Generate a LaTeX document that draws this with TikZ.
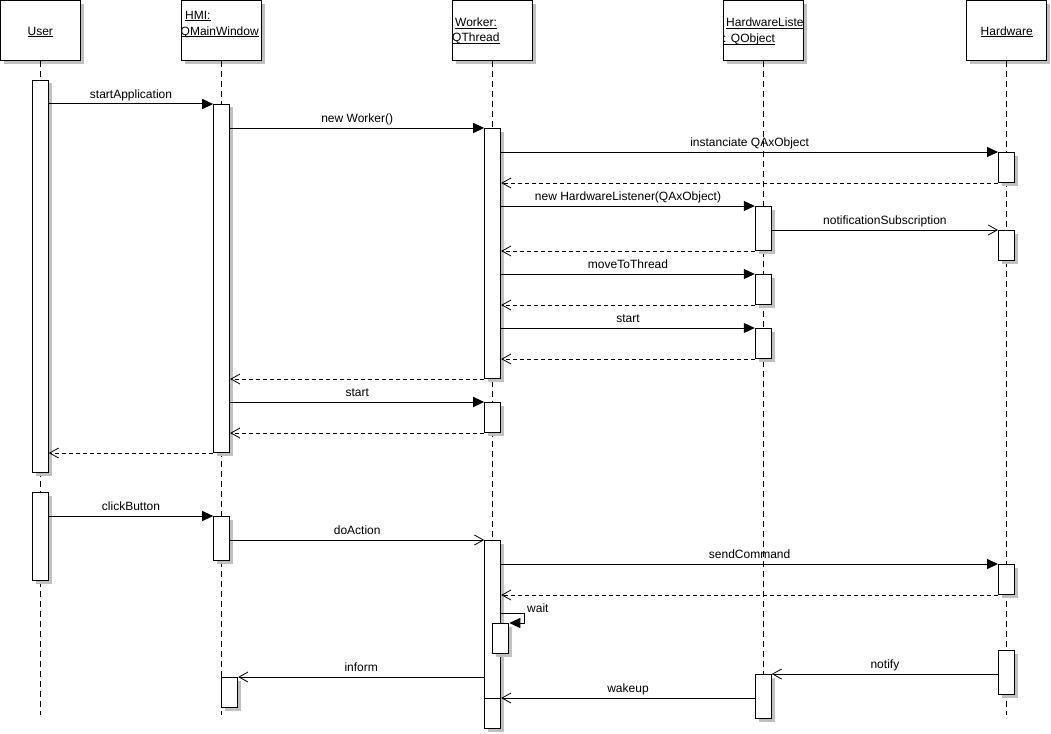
\documentclass[tikz,border=0pt]{standalone}
\usepackage{fontspec}
\setmainfont{Liberation Sans}
\usetikzlibrary{arrows.meta}
\definecolor{shadowgray}{RGB}{192,192,192}
\newcommand{\ultext}[1]{\setbox0=\hbox{#1}\rlap{\rule[-2pt]{\wd0}{0.9pt}}\box0}
\newcommand{\objhead}[2]{%
  \fill[shadowgray] (#2-36.25,4) rectangle ++(79.5,60);
  \node[objbox] (#1) at (#2,30.5) {};}
\newcommand{\actbox}[4]{%
  \fill[shadowgray] (#2-4.5,#3+3.5) rectangle ++(16,#4);
  \node[actbar,minimum height=#4pt] (#1) at (#2,#3) {};}
\tikzset{font=\fontsize{12}{14}\selectfont}
\tikzset{
  objbox/.style={draw,fill=white,line width=1pt,minimum width=79.5pt,minimum height=60pt,inner sep=0pt},
  actbar/.style={draw,fill=white,line width=1pt,minimum width=16pt,inner sep=0pt,anchor=north},
  hdtext/.style={inner sep=0pt,anchor=base west},
  lifeline/.style={line width=1pt,dash pattern=on 6pt off 4pt},
  callmsg/.style={line width=1pt,-{Triangle[length=11pt,width=10pt]}},
  asyncmsg/.style={line width=1pt,-{Straight Barb[length=9pt,width=10pt,line width=0.8pt]}},
  returnmsg/.style={asyncmsg,dash pattern=on 4pt off 3pt},
  msglbl/.style={midway,anchor=base,yshift=5.5pt,inner sep=0pt}
}

\begin{document}
\begin{tikzpicture}[x=1pt,y=-1pt]
  \useasboundingbox (0,0) rectangle (1051,733);

  \objhead{user}{40.3}
  \objhead{hmi}{221.7}
  \objhead{worker}{492.7}
  \objhead{hlist}{763.3}
  \objhead{hw}{1006.7}

  \node[anchor=base,inner sep=0pt] (usertx) at (40.3,35.3) {\ultext{User}};
  \node[anchor=base,inner sep=0pt] (hwtx) at (1006.7,35.3) {\ultext{Hardware}};
  \begin{scope}
    \clip (hmi.south west) rectangle (hmi.north east);
    \node[hdtext] (hmitx1) at (185,19.3) {\ultext{HMI:}};
    \node[hdtext] (hmitx2) at (180.5,35.3) {\ultext{QMainWindow}};
  \end{scope}
  \begin{scope}
    \clip (worker.south west) rectangle (worker.north east);
    \node[hdtext] (workertx1) at (455,27) {\ultext{Worker:}};
    \node[hdtext] (workertx2) at (452,42) {\ultext{QThread}};
  \end{scope}
  \begin{scope}
    \clip (hlist.south west) rectangle (hlist.north east);
    \node[hdtext] (hlisttx1) at (726,27) {\ultext{HardwareListener}};
    \node[hdtext] (hlisttx2) at (723,43) {\ultext{: QObject}};
  \end{scope}

  \foreach \obj in {user,hmi,worker,hlist,hw}
    \draw[lifeline] (\obj.south) -- (\obj.south |- 0,715);

  \actbox{ubar1}{40.3}{80}{392}
  \actbox{ubar2}{40.3}{492}{88}
  \actbox{hbar1}{221.7}{104}{348}
  \actbox{hbar2}{221.7}{516}{44}
  \actbox{hbar3}{229.7}{677}{30}
  \actbox{wbar1}{492.7}{128}{250}
  \actbox{wbar2}{492.7}{402}{30}
  \actbox{wbar3}{492.7}{540}{188}
  \actbox{wwait}{500.8}{623}{30}
  \actbox{wbar4}{492.7}{698}{30}
  \actbox{lbar1}{763.3}{206}{44}
  \actbox{lbar2}{763.3}{274}{30}
  \actbox{lbar3}{763.3}{328}{30}
  \actbox{lbar4}{763.3}{674}{44}
  \actbox{dbar1}{1006.5}{152}{30}
  \actbox{dbar2}{1006.5}{230}{30}
  \actbox{dbar3}{1006.5}{564}{30}
  \actbox{dbar4}{1006.5}{650}{44}

  \draw[callmsg] (ubar1.east |- hbar1.north) -- (hbar1.north west) node[msglbl] {startApplication};
  \draw[callmsg] (hbar1.east |- wbar1.north) -- (wbar1.north west) node[msglbl] {new Worker()};
  \draw[callmsg] (wbar1.east |- dbar1.north) -- (dbar1.north west) node[msglbl] {instanciate QAxObject};
  \draw[returnmsg] (dbar1.south west) -- (dbar1.south west -| wbar1.east);
  \draw[callmsg] (wbar1.east |- lbar1.north) -- (lbar1.north west) node[msglbl] {new HardwareListener(QAxObject)};
  \draw[asyncmsg] (lbar1.east |- dbar2.north) -- (dbar2.north west) node[msglbl] {notificationSubscription};
  \draw[returnmsg] (lbar1.south west) -- (lbar1.south west -| wbar1.east);
  \draw[callmsg] (wbar1.east |- lbar2.north) -- (lbar2.north west) node[msglbl] {moveToThread};
  \draw[returnmsg] (lbar2.south west) -- (lbar2.south west -| wbar1.east);
  \draw[callmsg] (wbar1.east |- lbar3.north) -- (lbar3.north west) node[msglbl] {start};
  \draw[returnmsg] (lbar3.south west) -- (lbar3.south west -| wbar1.east);
  \draw[returnmsg] (wbar1.south west) -- (wbar1.south west -| hbar1.east);
  \draw[callmsg] (hbar1.east |- wbar2.north) -- (wbar2.north west) node[msglbl] {start};
  \draw[returnmsg] (wbar2.south west) -- (wbar2.south west -| hbar1.east);
  \draw[returnmsg] (hbar1.south west) -- (hbar1.south west -| ubar1.east);

  \draw[callmsg] (ubar2.east |- hbar2.north) -- (hbar2.north west) node[msglbl] {clickButton};
  \draw[asyncmsg] (hbar2.east |- wbar3.north) -- (wbar3.north west) node[msglbl] {doAction};
  \draw[callmsg] (wbar3.east |- dbar3.north) -- (dbar3.north west) node[msglbl] {sendCommand};
  \draw[returnmsg] (dbar3.south west) -- (dbar3.south west -| wbar3.east);
  \coordinate (waitc) at (524,613.3);
  \draw[callmsg] (wbar3.east |- waitc) -- (waitc) -- (waitc |- wwait.north) -- (wwait.north east);
  \node[hdtext] (waittx) at (527,612.5) {wait};
  \draw[asyncmsg] (dbar4.west |- lbar4.north) -- (lbar4.north east) node[msglbl] {notify};
  \draw[asyncmsg] (wbar3.west |- hbar3.north) -- (hbar3.north east) node[msglbl] {inform};
  \draw[asyncmsg] (lbar4.west |- wbar4.north) -- (wbar4.north east) node[msglbl] {wakeup};
\end{tikzpicture}
\end{document}
